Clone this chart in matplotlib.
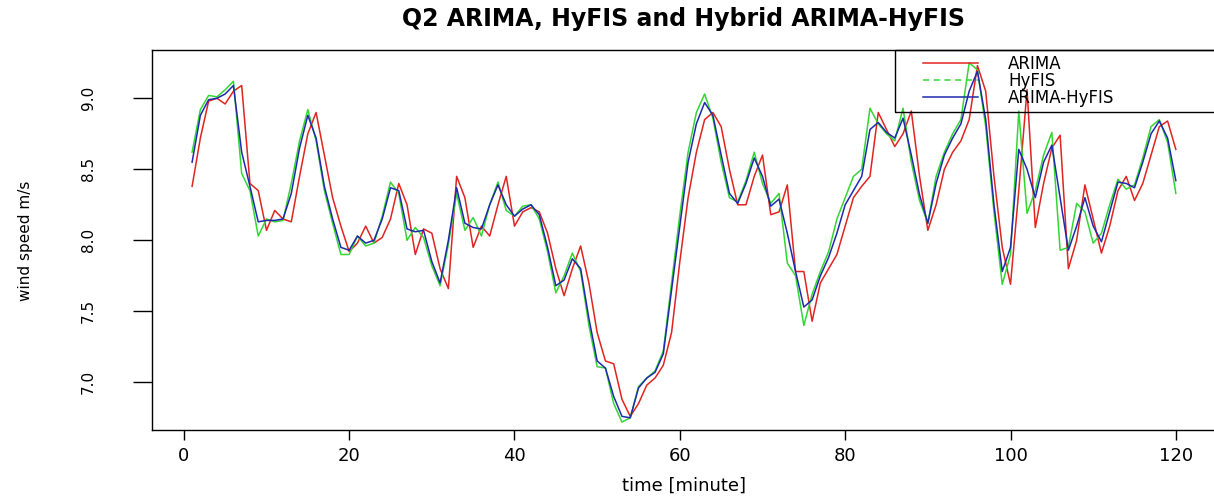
"""
Q2: comparacion de pronosticos de velocidad de viento (ARIMA, HyFIS, hibrido).
Valores leidos de la grafica original, un punto por minuto.
"""

import matplotlib
matplotlib.use("Agg")
import matplotlib.pyplot as plt
from matplotlib.lines import Line2D
from matplotlib.legend_handler import HandlerLine2D


minutes = list(range(1, 121))

arima = [
    8.38, 8.72, 8.98, 9.00, 8.96, 9.05, 9.09, 8.40, 8.35, 8.07,
    8.21, 8.15, 8.13, 8.45, 8.75, 8.90, 8.60, 8.30, 8.10, 7.92,
    7.98, 8.10, 7.98, 8.02, 8.15, 8.40, 8.25, 7.90, 8.08, 8.05,
    7.80, 7.66, 8.45, 8.30, 7.95, 8.10, 8.03, 8.25, 8.45, 8.10,
    8.20, 8.23, 8.20, 8.05, 7.80, 7.61, 7.80, 7.96, 7.70, 7.35,
    7.15, 7.13, 6.88, 6.76, 6.85, 6.98, 7.03, 7.12, 7.35, 7.85,
    8.30, 8.62, 8.85, 8.90, 8.80, 8.50, 8.25, 8.25, 8.45, 8.60,
    8.18, 8.20, 8.39, 7.78, 7.78, 7.43, 7.70, 7.80, 7.90, 8.10,
    8.30, 8.38, 8.45, 8.90, 8.78, 8.66, 8.75, 8.91, 8.45, 8.07,
    8.25, 8.50, 8.62, 8.70, 8.85, 9.23, 9.05, 8.45, 7.95, 7.69,
    8.35, 9.06, 8.09, 8.40, 8.65, 8.74, 7.80, 8.00, 8.39, 8.15,
    7.91, 8.10, 8.35, 8.45, 8.28, 8.40, 8.60, 8.80, 8.84, 8.64,
]

hyfis = [
    8.62, 8.92, 9.02, 9.01, 9.06, 9.12, 8.47, 8.35, 8.03, 8.15,
    8.13, 8.14, 8.40, 8.70, 8.92, 8.70, 8.35, 8.12, 7.90, 7.90,
    8.03, 7.96, 7.98, 8.17, 8.41, 8.33, 8.00, 8.09, 8.02, 7.82,
    7.68, 7.97, 8.33, 8.07, 8.16, 8.03, 8.25, 8.41, 8.21, 8.17,
    8.24, 8.25, 8.15, 7.92, 7.63, 7.75, 7.91, 7.78, 7.40, 7.11,
    7.10, 6.85, 6.72, 6.75, 6.97, 7.03, 7.08, 7.22, 7.70, 8.18,
    8.62, 8.90, 9.03, 8.86, 8.55, 8.30, 8.27, 8.42, 8.62, 8.40,
    8.26, 8.33, 7.84, 7.75, 7.40, 7.62, 7.78, 7.92, 8.15, 8.30,
    8.45, 8.50, 8.93, 8.82, 8.75, 8.70, 8.93, 8.55, 8.28, 8.12,
    8.45, 8.62, 8.75, 8.85, 9.25, 9.20, 8.80, 8.20, 7.69, 7.90,
    8.91, 8.19, 8.35, 8.60, 8.76, 7.93, 7.95, 8.26, 8.20, 7.98,
    8.05, 8.25, 8.43, 8.36, 8.39, 8.58, 8.80, 8.85, 8.69, 8.33,
]

arima_hyfis = [
    8.55, 8.88, 8.99, 9.00, 9.03, 9.09, 8.62, 8.38, 8.13, 8.14,
    8.14, 8.15, 8.33, 8.65, 8.88, 8.72, 8.38, 8.15, 7.95, 7.93,
    8.03, 7.98, 8.00, 8.15, 8.37, 8.35, 8.08, 8.06, 8.07, 7.85,
    7.70, 8.00, 8.37, 8.12, 8.09, 8.08, 8.25, 8.39, 8.25, 8.17,
    8.22, 8.25, 8.18, 7.95, 7.68, 7.72, 7.87, 7.80, 7.45, 7.15,
    7.10, 6.90, 6.76, 6.75, 6.96, 7.03, 7.07, 7.20, 7.65, 8.10,
    8.55, 8.82, 8.97, 8.88, 8.60, 8.33, 8.26, 8.40, 8.58, 8.45,
    8.24, 8.29, 8.05, 7.78, 7.53, 7.58, 7.75, 7.88, 8.05, 8.25,
    8.35, 8.45, 8.78, 8.83, 8.76, 8.72, 8.86, 8.60, 8.32, 8.12,
    8.40, 8.60, 8.72, 8.82, 9.05, 9.19, 8.85, 8.25, 7.78, 7.95,
    8.64, 8.50, 8.30, 8.55, 8.67, 8.30, 7.93, 8.10, 8.30, 8.10,
    7.99, 8.20, 8.41, 8.40, 8.37, 8.55, 8.75, 8.84, 8.72, 8.42,
]

series_labels = ["ARIMA", "HyFIS", "ARIMA-HyFIS"]
x_ticks = [0, 20, 40, 60, 80, 100, 120]
y_ticks = [7.0, 7.5, 8.0, 8.5, 9.0]

RED = "#e0241f"
GREEN = "#33d633"
BLUE = "#1f2aae"


def main() -> None:
    plt.rcParams["font.family"] = ["DejaVu Sans"]

    fig = plt.figure(figsize=(12.14, 4.97), dpi=100)
    ax = fig.add_axes([0.1252, 0.1348, 0.8764, 0.7646])

    ax.plot(minutes, arima, color=RED, lw=1.1)
    ax.plot(minutes, hyfis, color=GREEN, lw=1.1)
    ax.plot(minutes, arima_hyfis, color=BLUE, lw=1.1)

    ax.set_xlim(-3.85, 124.85)
    ax.set_ylim(6.664, 9.340)
    ax.set_xticks(x_ticks)
    ax.set_yticks(y_ticks)
    ax.set_yticklabels([f"{v:.1f}" for v in y_ticks])

    for side in ["left", "right", "top", "bottom"]:
        ax.spines[side].set_linewidth(1.0)
        ax.spines[side].set_color("black")

    ax.tick_params(axis="x", length=7, width=1, pad=5, labelsize=13)
    ax.tick_params(axis="y", length=13.5, width=1, pad=27, labelsize=11,
                   labelrotation=90)
    for lab in ax.get_yticklabels():
        lab.set_va("center")

    ax.set_xlabel("time [minute]", fontsize=13)
    ax.xaxis.set_label_coords(0.5, -0.122)
    ax.set_ylabel("wind speed m/s", fontsize=11)
    ax.yaxis.set_label_coords(-0.112, 0.497)

    ax.set_title("Q2 ARIMA, HyFIS and Hybrid ARIMA-HyFIS",
                 fontsize=17, fontweight="bold", pad=17.5)

    handles = [
        Line2D([], [], color=RED, lw=1.1),
        Line2D([], [], color=GREEN, lw=1.1, ls=(0, (4, 3))),
        Line2D([], [], color=BLUE, lw=1.1),
    ]
    leg = ax.legend(
        handles, series_labels,
        loc="upper left", bbox_to_anchor=(0.6983, 0.0, 0.33, 1.0),
        mode="expand", borderaxespad=0.0, fontsize=12,
        borderpad=0.3, labelspacing=-0.05, handlelength=4.7,
        handletextpad=1.8, fancybox=False, frameon=True,
        handler_map={Line2D: HandlerLine2D(xpad=1.4)},
    )
    frame = leg.get_frame()
    frame.set_facecolor("none")
    frame.set_edgecolor("black")
    frame.set_linewidth(1.0)
    frame.set_alpha(1.0)

    fig.savefig("out.png", dpi=100)
    plt.close(fig)


if __name__ == "__main__":
    main()
